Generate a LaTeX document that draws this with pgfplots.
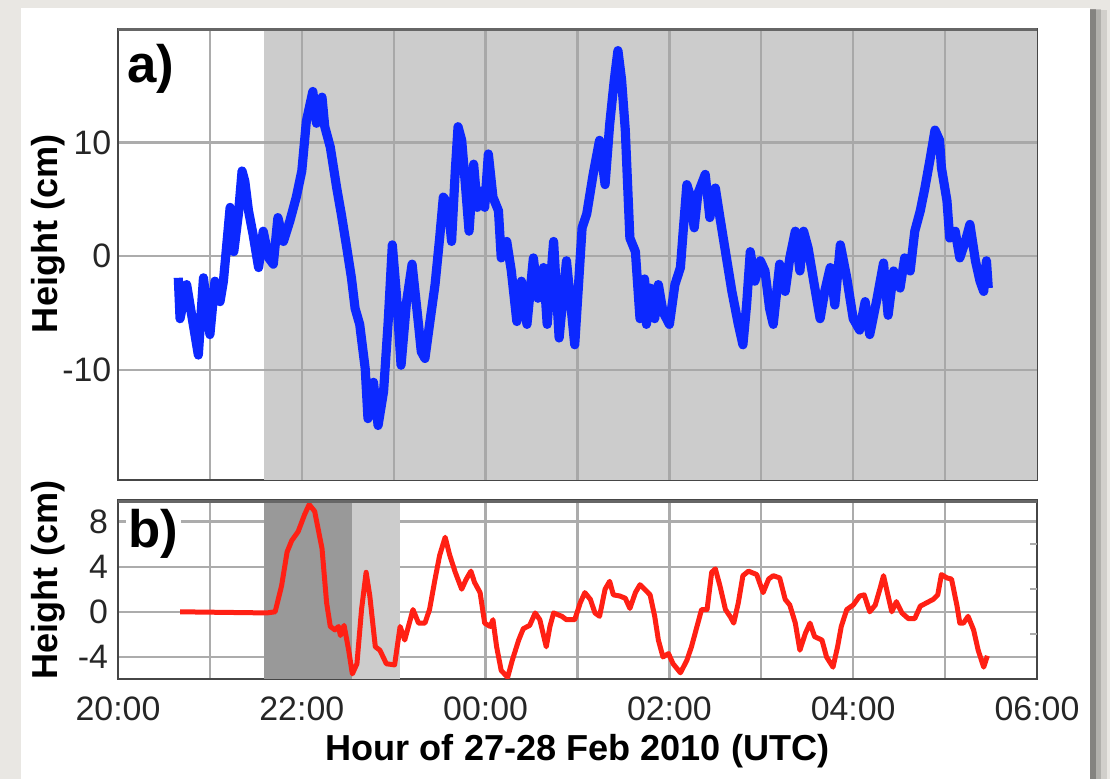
\documentclass[border=0pt]{standalone}
\usepackage{fontspec}
\setmainfont{Liberation Sans}
\usepackage{pgfplots}
\pgfplotsset{compat=1.18}

\definecolor{bluel}{RGB}{12,40,255}
\definecolor{redl}{RGB}{255,32,20}
\definecolor{shadeL}{RGB}{204,204,204}
\definecolor{shadeD}{RGB}{153,153,153}
\definecolor{gridc}{RGB}{172,172,172}
\definecolor{gridd}{RGB}{168,168,168}
\definecolor{framec}{RGB}{70,70,70}
\definecolor{bgc}{RGB}{233,231,227}

\pgfplotsset{
  common/.style={
    scale only axis, width=330.84pt,
    xmin=20, xmax=30, xtick={20,...,30},
    grid=major, major grid style={gridc, line width=0.8pt},
    major tick length=0pt,
    axis line style={framec, line width=0.9pt},
    tick label style={font=\fontsize{12.2}{14}\selectfont, color=black!85},
    yticklabel style={inner sep=1pt, xshift=-1.2pt},
    unbounded coords=jump,
  },
}

\begin{document}
\begin{tikzpicture}
\fill[bgc] (0,0) rectangle (399.6pt,-280.44pt);
\fill[black,opacity=0.10] (9pt,-3.6pt) rectangle (398.5pt,-280.44pt);
\fill[black,opacity=0.15] (8.5pt,-3.3pt) rectangle (396.5pt,-280.44pt);
\fill[black,opacity=0.25] (8pt,-3.1pt) rectangle (394.5pt,-280.44pt);
\fill[white] (7.56pt,-2.88pt) rectangle (392.4pt,-280.44pt);

% ---------------- panel a ----------------
\begin{axis}[common,
  at={(42.48pt,-172.8pt)}, anchor=south west, height=162.36pt,
  ymin=-19.7, ymax=20.0, ytick={-10,0,10}, yticklabels={-10,0,10},
  xticklabels={},
  every axis y label/.style={at={(rel axis cs:0,0.546)}, xshift=-25pt, rotate=90, anchor=center, font=\fontsize{13}{15}\selectfont\bfseries},
  ylabel={Height (cm)},
]
\addplot[draw=none, fill=shadeL] coordinates {(21.59,-19.7) (30,-19.7) (30,20) (21.59,20)};
% grid lines seen through the shaded band
\addplot[gridd, line width=0.8pt] coordinates {
(21.59,-10) (30,-10) (nan,nan) (21.59,0) (30,0) (nan,nan) (21.59,10) (30,10) (nan,nan)
(22,-19.7) (22,20) (nan,nan) (23,-19.7) (23,20) (nan,nan) (24,-19.7) (24,20) (nan,nan)
(25,-19.7) (25,20) (nan,nan) (26,-19.7) (26,20) (nan,nan) (27,-19.7) (27,20) (nan,nan)
(28,-19.7) (28,20) (nan,nan) (29,-19.7) (29,20)
};
\addplot[bluel, line width=3.3pt, line join=round] coordinates {
(20.656,-1.9) (20.675,-5.5) (20.747,-2.5) (20.80,-5.1) (20.874,-8.7) (20.93,-1.9)
(21.0,-6.9) (21.055,-2.2) (21.11,-4.0) (21.147,-2.2) (21.18,0.7) (21.22,4.3)
(21.26,0.4) (21.31,3.7) (21.35,7.5) (21.38,6.6) (21.42,4.0) (21.47,1.9)
(21.53,-1.0) (21.58,2.2) (21.64,-0.15) (21.69,-0.7) (21.74,3.4) (21.80,1.3)
(21.87,3.1) (21.94,5.2) (22.0,7.5) (22.05,11.9) (22.12,14.5) (22.16,11.7)
(22.22,14.0) (22.25,11.4) (22.31,9.6) (22.38,6.0) (22.43,3.7) (22.49,0.7)
(22.54,-1.9) (22.58,-4.6) (22.63,-6.0) (22.69,-9.9) (22.72,-14.3) (22.78,-11.1)
(22.83,-14.9) (22.89,-11.9) (22.94,-5.75) (22.985,1.0) (23.03,-3.4) (23.08,-9.6)
(23.14,-4.0) (23.20,-0.7) (23.27,-6.0) (23.30,-8.4) (23.34,-9.0) (23.39,-6.0)
(23.45,-2.5) (23.50,1.6) (23.54,5.2) (23.59,4.6) (23.63,1.3) (23.67,7.5)
(23.70,11.4) (23.74,10.2) (23.78,6.3) (23.82,2.2) (23.87,8.1) (23.91,4.3)
(23.96,5.75) (23.99,4.3) (24.03,9.0) (24.08,5.2) (24.14,4.0) (24.17,-0.15)
(24.23,1.3) (24.28,-1.3) (24.34,-5.75) (24.39,-2.2) (24.45,-6.0) (24.52,-0.15)
(24.57,-3.7) (24.63,-1.0) (24.67,-6.0) (24.74,1.3) (24.80,-7.2) (24.88,-0.4)
(24.97,-7.8) (25.05,2.5) (25.10,3.7) (25.17,7.2) (25.24,10.2) (25.30,6.3)
(25.35,11.6) (25.40,15.5) (25.44,18.1) (25.48,15.5) (25.52,11.1) (25.57,1.6)
(25.63,0.4) (25.68,-5.5) (25.73,-2.0) (25.75,-6.0) (25.79,-2.8) (25.84,-5.5)
(25.88,-2.5) (25.93,-4.9) (26.0,-6.0) (26.06,-2.5) (26.12,-1.0) (26.15,2.2)
(26.19,6.3) (26.22,5.5) (26.27,2.5) (26.31,5.5) (26.39,7.2) (26.44,3.4)
(26.50,6.0) (26.55,3.4) (26.61,0.4) (26.68,-3.1) (26.75,-6.0) (26.80,-7.8)
(26.84,-4.3) (26.88,0.4) (26.93,-2.2) (26.99,-0.4) (27.04,-1.3) (27.09,-4.6)
(27.13,-6.0) (27.20,-0.7) (27.26,-3.1) (27.31,-0.15) (27.37,2.2) (27.42,-1.3)
(27.46,2.2) (27.51,0.7) (27.57,-2.2) (27.64,-5.5) (27.69,-3.1) (27.75,-1.0)
(27.80,-4.3) (27.86,1.0) (27.93,-1.9) (28.0,-5.5) (28.07,-6.5) (28.13,-4.0)
(28.18,-6.9) (28.26,-3.7) (28.33,-0.6) (28.38,-5.2) (28.44,-1.3) (28.51,-2.8)
(28.56,-0.15) (28.62,-1.3) (28.67,2.2) (28.73,4.0) (28.78,6.0) (28.84,8.7)
(28.89,11.1) (28.94,10.2) (28.96,7.8) (29.02,4.9) (29.05,1.6) (29.11,2.2)
(29.16,-0.15) (29.22,1.3) (29.27,2.8) (29.33,-0.4) (29.38,-2.2) (29.42,-3.1)
(29.45,-0.4) (29.47,-2.8)
};
\draw[black!60, line width=1.8pt] (rel axis cs:0,1) -- (rel axis cs:1,1);
\node[anchor=north west, inner sep=0pt, xshift=3.2pt, yshift=-5.2pt, font=\fontsize{19}{19}\selectfont\bfseries] at (rel axis cs:0,1) {a)};
\end{axis}

% ---------------- panel b ----------------
\begin{axis}[common,
  at={(42.48pt,-244.44pt)}, anchor=south west, height=64.44pt,
  ymin=-5.95, ymax=9.9, ytick={-4,0,4,8}, yticklabels={-4,0,4,8},
  yticklabel style={xshift=-1.2pt},
  xticklabels={20:00,,22:00,,00:00,,02:00,,04:00,,06:00},
  xticklabel style={anchor=base, yshift=-15.1pt},
  every axis y label/.style={at={(rel axis cs:0,0.553)}, xshift=-25pt, rotate=90, anchor=center, font=\fontsize{13}{15}\selectfont\bfseries},
  ylabel={Height (cm)},
  every axis x label/.style={at={(rel axis cs:0.5,0)}, anchor=base, yshift=-29.5pt, font=\fontsize{13}{15}\selectfont\bfseries},
  xlabel={Hour of 27-28 Feb 2010 (UTC)},
]
\addplot[draw=none, fill=shadeD] coordinates {(21.59,-5.95) (22.546,-5.95) (22.546,9.9) (21.59,9.9)};
\addplot[draw=none, fill=shadeL] coordinates {(22.546,-5.95) (23.07,-5.95) (23.07,9.9) (22.546,9.9)};
\addplot[redl, line width=1.8pt, line join=round] coordinates {
(20.675,0.0) (21.62,-0.1) (21.71,0.0) (21.78,2.3) (21.84,5.3) (21.89,6.3)
(21.96,7.1) (22.03,8.6) (22.08,9.5) (22.14,8.9) (22.22,5.6) (22.27,0.8)
(22.31,-1.3) (22.36,-1.6) (22.40,-1.3) (22.42,-2.1) (22.46,-1.2) (22.51,-3.4)
(22.55,-5.5) (22.60,-4.6) (22.65,0.2) (22.70,3.5) (22.74,1.4) (22.80,-3.1)
(22.85,-3.4) (22.92,-4.6) (23.01,-4.7) (23.07,-1.3) (23.12,-2.5) (23.21,0.2)
(23.27,-1.0) (23.34,-1.0) (23.39,0.2) (23.45,2.9) (23.50,5.0) (23.56,6.6)
(23.61,5.0) (23.67,3.5) (23.74,2.0) (23.79,2.9) (23.84,3.6) (23.88,2.6)
(23.94,1.7) (23.99,-1.0) (24.05,-1.3) (24.08,-0.7) (24.12,-3.1) (24.17,-5.2)
(24.24,-5.8) (24.29,-4.3) (24.36,-2.5) (24.41,-1.5) (24.48,-1.2) (24.54,-0.1)
(24.59,-0.7) (24.66,-3.1) (24.70,-1.3) (24.74,-0.1) (24.83,-0.4) (24.88,-0.7)
(24.97,-0.7) (25.03,0.8) (25.08,1.7) (25.14,1.1) (25.19,-0.1) (25.24,-0.4)
(25.30,2.0) (25.35,2.7) (25.39,1.5) (25.46,1.4) (25.52,1.2) (25.57,0.3)
(25.63,1.7) (25.68,2.4) (25.73,2.0) (25.79,1.5) (25.84,-0.4) (25.88,-2.5)
(25.93,-4.0) (25.99,-3.7) (26.04,-4.6) (26.12,-5.4) (26.19,-4.3) (26.24,-3.1)
(26.30,-1.3) (26.35,0.2) (26.41,0.2) (26.46,3.5) (26.50,3.8) (26.55,2.3)
(26.61,0.2) (26.66,-0.4) (26.70,-1.0) (26.75,0.8) (26.80,3.2) (26.86,3.6)
(26.95,3.3) (27.02,1.7) (27.08,2.9) (27.13,3.2) (27.20,3.0) (27.26,1.1)
(27.31,0.6) (27.37,-1.0) (27.42,-3.4) (27.48,-1.9) (27.53,-1.0) (27.58,-2.2)
(27.66,-2.5) (27.71,-4.0) (27.78,-4.9) (27.83,-3.1) (27.87,-1.3) (27.93,0.2)
(28.0,0.6) (28.07,1.4) (28.12,1.5) (28.18,0.0) (28.24,0.6) (28.29,2.0)
(28.33,3.2) (28.38,1.4) (28.42,0.0) (28.47,0.9) (28.53,-0.1) (28.60,-0.6)
(28.67,-0.6) (28.73,0.5) (28.80,0.8) (28.87,1.1) (28.92,1.5) (28.96,3.3)
(29.02,3.0) (29.07,2.9) (29.13,0.5) (29.16,-1.0) (29.20,-1.0) (29.25,-0.4)
(29.31,-1.6) (29.36,-3.4) (29.42,-4.9) (29.46,-3.9)
};
\draw[black!60, line width=1.8pt] (rel axis cs:0,1) -- (rel axis cs:1,1);
\node[anchor=north west, inner sep=1pt, fill=white, xshift=2.6pt, yshift=-2pt, font=\fontsize{19}{19}\selectfont\bfseries] at (rel axis cs:0,1) {b)};
\end{axis}

% right-side inner ticks of panel b
\begin{axis}[scale only axis, width=330.84pt, height=64.44pt,
  at={(42.48pt,-244.44pt)}, anchor=south west,
  xmin=20, xmax=30, ymin=-5.95, ymax=9.9,
  axis x line=none, axis y line*=right, y axis line style={draw=none},
  ytick={-2,2,6}, yticklabels={}, tick align=inside,
  major tick length=2.6pt, every tick/.style={gridc, line width=0.75pt},
]
\end{axis}
\end{tikzpicture}
\end{document}
